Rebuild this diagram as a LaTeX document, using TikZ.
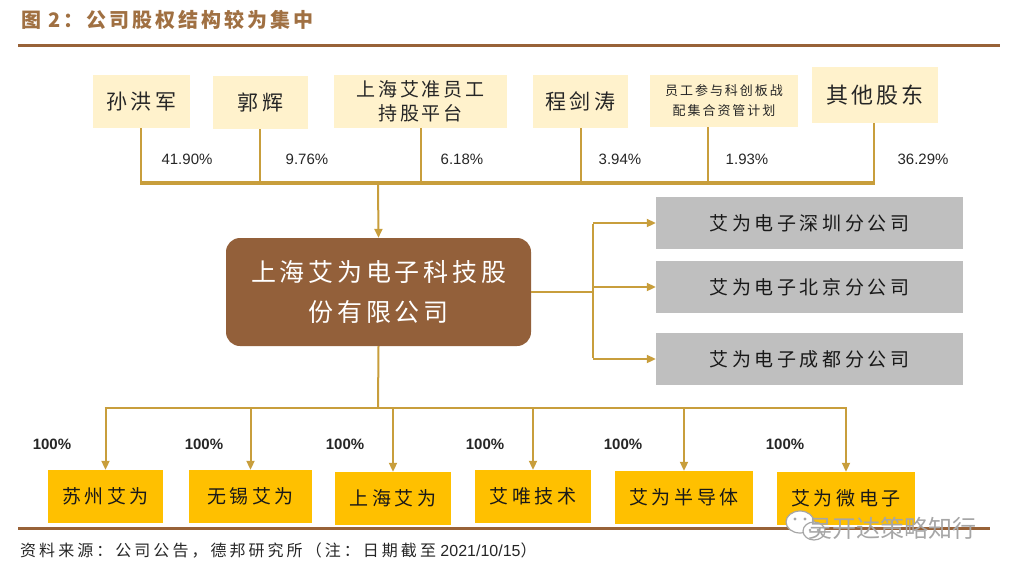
\documentclass[tikz,border=0pt]{standalone}
\usepackage{fontspec}
\setmainfont{Liberation Sans}
\newfontfamily\cjk{Noto Sans CJK SC}
\newfontfamily\cjkls{Noto Sans CJK SC}[LetterSpace=15]
\newfontfamily\cjkxs{Noto Sans CJK SC}[LetterSpace=19]
\usetikzlibrary{arrows.meta}
\definecolor{brownrule}{RGB}{152,98,56}
\definecolor{titlebrown}{RGB}{160,112,66}
\definecolor{mainbrown}{RGB}{147,96,58}
\definecolor{gold}{RGB}{200,158,60}
\definecolor{lightyel}{RGB}{255,242,204}
\definecolor{grayfill}{RGB}{191,191,191}
\definecolor{yelfill}{RGB}{255,192,0}
\tikzset{
  topbox/.style={fill=lightyel, inner sep=0pt, align=center, text=black!85},
  graybox/.style={fill=grayfill, inner sep=0pt, minimum width=307, minimum height=52, text=black!90, font=\cjkxs\fontsize{19}{21}\selectfont},
  yelbox/.style={fill=yelfill, inner sep=0pt, minimum height=53, text=black!90, font=\cjkxs\fontsize{19}{21}\selectfont},
  conn/.style={draw=gold, line width=2pt},
  bus/.style={draw=gold, line width=3.5pt},
  arr/.style={draw=gold, line width=2pt, -{Triangle[length=9pt,width=8pt]}},
  pct/.style={font=\fontsize{15}{17}\selectfont, text=black!85},
  hund/.style={font=\bfseries\fontsize{15}{17}\selectfont, text=black!85},
}
\begin{document}
\begin{tikzpicture}[x=1pt,y=-1pt]
\useasboundingbox (0,0) rectangle (1013,574);
% title and rules
\node[anchor=west, inner sep=0pt, text=titlebrown, font=\cjkls\bfseries\fontsize{20}{22}\selectfont] (title) at (21,20) {图 2：公司股权结构较为集中};
\draw[brownrule, line width=3pt] (18,45) -- (1000,45);
\draw[brownrule, line width=3pt] (18,528) -- (990,528);
\node[anchor=west, inner sep=0pt, text=black!85, font=\fontsize{16}{18}\selectfont] (src) at (20,550) {{\cjkxs 资料来源：公司公告，德邦研究所（注：日期截至} 2021/10/15{\cjk ）}};
% shareholders
\node[topbox, minimum width=97, minimum height=53, font=\cjkls\fontsize{21}{23}\selectfont] (t1) at (141.5,101.5) {孙洪军};
\node[topbox, minimum width=95, minimum height=53, font=\cjkls\fontsize{21}{23}\selectfont] (t2) at (260.5,102.5) {郭辉};
\node[topbox, minimum width=173, minimum height=53, font=\cjkls\fontsize{19}{24}\selectfont] (t3) at (420.5,101.5) {上海艾准员工\\持股平台};
\node[topbox, minimum width=95, minimum height=53, font=\cjkls\fontsize{21}{23}\selectfont] (t4) at (580.5,101.5) {程剑涛};
\node[topbox, minimum width=148, minimum height=52, font=\cjkls\fontsize{13}{20}\selectfont] (t5) at (724,101) {员工参与科创板战\\配集合资管计划};
\node[topbox, minimum width=126, minimum height=56, font=\cjkls\fontsize{22}{24}\selectfont] (t6) at (875,95) {其他股东};
% bus coordinates
\coordinate (b1) at (141,183);
\coordinate (b2) at (260,183);
\coordinate (b3) at (421,183);
\coordinate (b4) at (581,183);
\coordinate (b5) at (708,183);
\coordinate (b6) at (874,183);
\coordinate (bm) at (378,183);
\draw[conn] (t1.south -| b1) -- (b1);
\draw[conn] (t2.south -| b2) -- (b2);
\draw[conn] (t3.south -| b3) -- (b3);
\draw[conn] (t4.south -| b4) -- (b4);
\draw[conn] (t5.south -| b5) -- (b5);
\draw[conn] (t6.south -| b6) -- (b6);
\draw[bus] ([xshift=-1pt]b1) -- ([xshift=1pt]b6);
\node[pct] (p1) at (187,159) {41.90\%};
\node[pct] (p2) at (307,159) {9.76\%};
\node[pct] (p3) at (462,159) {6.18\%};
\node[pct] (p4) at (620,159) {3.94\%};
\node[pct] (p5) at (747,159) {1.93\%};
\node[pct] (p6) at (923,159) {36.29\%};
% main company
\node[fill=mainbrown, rounded corners=14pt, minimum width=305, minimum height=108, inner sep=0pt, align=center, text=white, font=\cjkls\fontsize{25}{40}\selectfont] (main) at (378.5,292) {上海艾为电子科技股\\份有限公司};
\draw[arr] (bm) -- (main.north);
% branches
\node[graybox] (g1) at (809.5,223) {艾为电子深圳分公司};
\node[graybox] (g2) at (809.5,287) {艾为电子北京分公司};
\node[graybox] (g3) at (809.5,359) {艾为电子成都分公司};
\coordinate (rj) at (593,292);
\draw[conn] (main.east) -- (rj);
\draw[conn] ([yshift=-1pt]g1.west -| rj) -- ([yshift=1pt]g3.west -| rj);
\draw[arr] (g1.west -| rj) -- (g1.west);
\draw[arr] (g2.west -| rj) -- (g2.west);
\draw[arr] (g3.west -| rj) -- (g3.west);
% subsidiaries
\node[yelbox, minimum width=115] (s1) at (105.5,496.5) {苏州艾为};
\node[yelbox, minimum width=123] (s2) at (250.5,496.5) {无锡艾为};
\node[yelbox, minimum width=116] (s3) at (393,498.5) {上海艾为};
\node[yelbox, minimum width=116] (s4) at (533,496.5) {艾唯技术};
\node[yelbox, minimum width=138] (s5) at (684,497.5) {艾为半导体};
\node[yelbox, minimum width=138] (s6) at (846,498.5) {艾为微电子};
\coordinate (lb) at (378,408);
\draw[conn] (main.south) -- (lb);
\draw[conn] ([xshift=-1pt]s1.north |- lb) -- ([xshift=1pt]s6.north |- lb);
\foreach \s in {s1,s2,s3,s4,s5,s6}{
  \draw[arr] (\s.north |- lb) -- (\s.north);
}
\node[hund] (h1) at (52,444) {100\%};
\node[hund] (h2) at (204,444) {100\%};
\node[hund] (h3) at (345,444) {100\%};
\node[hund] (h4) at (485,444) {100\%};
\node[hund] (h5) at (623,444) {100\%};
\node[hund] (h6) at (785,444) {100\%};
% watermark
\draw[black!35, fill=white, line width=1.2pt] (800,522) ellipse (14 and 11);
\draw[black!35, fill=white, line width=1.2pt] (814,531) ellipse (11 and 9);
\fill[black!35] (795,519) circle (1.6) (805,519) circle (1.6) (810,530) circle (1.3) (818,530) circle (1.3);
\node[anchor=west, inner sep=0pt, text=black!35, font=\cjk\fontsize{24}{26}\selectfont] (wm) at (808,528) {吴开达策略知行};
\end{tikzpicture}
\end{document}
